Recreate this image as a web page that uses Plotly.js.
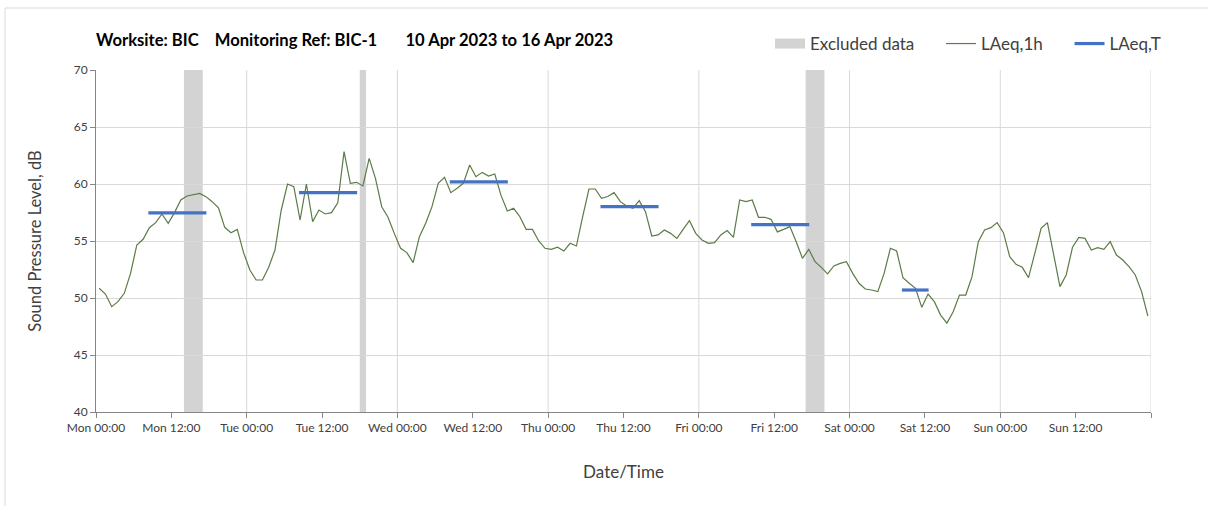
<!DOCTYPE html>
<html><head><meta charset="utf-8">
<script src="https://cdn.plot.ly/plotly-3.0.1.min.js"></script>
<style>html,body{margin:0;padding:0;background:#fff;} #chart{width:1208px;height:506px;}</style>
</head><body><div id="chart"></div>
<script>
// Hourly LAeq,1h values (dB), Mon 10 Apr 2023 00:00 to Sun 16 Apr 2023 23:00 (plotted at mid-hour)
const laeq1h = [
 50.85,50.35,49.24,49.68,50.41,52.16,54.65,55.15,56.17,56.61,57.37,56.55,57.49,58.6,58.95,59.09,59.18,58.89,58.45,57.92,56.2,55.73,56.02,53.98,
 52.46,51.58,51.58,52.7,54.21,57.72,60.0,59.77,56.84,60.0,56.7,57.72,57.37,57.49,58.36,62.84,60.06,60.15,59.83,62.25,60.5,58.01,57.08,55.67,
 54.36,53.98,53.1,55.38,56.55,58.01,60.06,60.58,59.24,59.62,60.06,61.67,60.64,61.02,60.7,60.88,59.0,57.63,57.87,57.13,56.02,56.02,55.0,54.36,
 54.27,54.45,54.12,54.8,54.56,57.13,59.56,59.56,58.74,58.9,59.24,58.45,58.07,57.87,58.54,57.57,55.44,55.53,55.97,55.67,55.23,56.02,56.78,55.67,
 55.09,54.8,54.85,55.53,55.91,55.32,58.6,58.45,58.6,57.08,57.08,56.9,55.8,56.02,56.26,54.94,53.48,54.27,53.19,52.69,52.11,52.81,53.04,53.19,
 52.16,51.29,50.79,50.7,50.56,52.16,54.36,54.12,51.78,51.29,50.85,49.18,50.35,49.68,48.5,47.8,48.8,50.26,50.26,51.87,54.94,55.97,56.17,56.61,
 55.73,53.63,52.95,52.69,51.78,53.92,56.11,56.61,53.77,51.0,52.02,54.45,55.32,55.23,54.21,54.42,54.27,54.94,53.77,53.33,52.75,52.02,50.56,48.42
];
// LAeq,T periods
const periodStart = ['2023-04-10 08:20','2023-04-11 08:20','2023-04-12 08:20','2023-04-13 08:20','2023-04-14 08:20','2023-04-15 08:20'];
const periodEnd   = ['2023-04-10 17:35','2023-04-11 17:35','2023-04-12 17:35','2023-04-13 17:35','2023-04-14 17:35','2023-04-15 12:35'];
const periodLevel = [57.46, 59.24, 60.18, 58.01, 56.43, 50.7];
// Excluded data periods
const excludedStart = ['2023-04-10 14:00','2023-04-11 18:00','2023-04-14 17:00'];
const excludedEnd   = ['2023-04-10 17:00','2023-04-11 19:00','2023-04-14 20:00'];
// Axis ticks
const tickTimes = ['2023-04-10 00:00','2023-04-10 12:00','2023-04-11 00:00','2023-04-11 12:00','2023-04-12 00:00','2023-04-12 12:00','2023-04-13 00:00','2023-04-13 12:00','2023-04-14 00:00','2023-04-14 12:00','2023-04-15 00:00','2023-04-15 12:00','2023-04-16 00:00','2023-04-16 12:00','2023-04-17 00:00'];
const tickLabels = ['Mon 00:00','Mon 12:00','Tue 00:00','Tue 12:00','Wed 00:00','Wed 12:00','Thu 00:00','Thu 12:00','Fri 00:00','Fri 12:00','Sat 00:00','Sat 12:00','Sun 00:00','Sun 12:00',''];
const dayLines = ['2023-04-11 00:00','2023-04-12 00:00','2023-04-13 00:00','2023-04-14 00:00','2023-04-15 00:00','2023-04-16 00:00','2023-04-17 00:00'];

function hourTime(i){
  const d = new Date(Date.UTC(2023,3,10,0,30) + i*3600e3);
  return d.toISOString().slice(0,16).replace('T',' ');
}
const times = laeq1h.map((v,i)=>hourTime(i));

const NB = '\u00a0';
const FONT = 'Lato, "Open Sans", sans-serif';
const traces = [];
traces.push({x:[null], y:[null], mode:'lines', name:'Excluded data'+NB.repeat(5), line:{color:'#d3d3d3', width:12}, hoverinfo:'skip'});
traces.push({x:times, y:laeq1h, mode:'lines', name:'LAeq,1h'+NB.repeat(5), line:{color:'#5b7b47', width:1.2}});
periodLevel.forEach((v,k)=>{
  traces.push({x:[periodStart[k], periodEnd[k]], y:[v, v], mode:'lines', name:'LAeq,T', legendgroup:'T', showlegend:k===0, line:{color:'#4472c4', width:3.2}});
});

const shapes = [];
dayLines.forEach(d=>shapes.push({type:'line', xref:'x', yref:'paper', x0:d, x1:d, y0:0, y1:1, layer:'below', line:{color:'#d9d9d9', width:1}}));
excludedStart.forEach((s,k)=>shapes.push({type:'rect', xref:'x', yref:'paper', x0:s, x1:excludedEnd[k], y0:0, y1:1, layer:'below', fillcolor:'#d3d3d3', line:{width:0}}));
shapes.push({type:'rect', xref:'paper', yref:'paper', x0:(5-96)/1055, x1:(1260-96)/1055, y0:(412-560)/342, y1:(412-8)/342, layer:'below', line:{color:'#d9d9d9', width:1}, fillcolor:'rgba(0,0,0,0)'});

const layout = {
  width:1208, height:506,
  margin:{l:96, r:57, t:70, b:94},
  paper_bgcolor:'#fff', plot_bgcolor:'#fff',
  font:{family:FONT, color:'#404040'},
  title:{text:'<b>Worksite: BIC'+NB.repeat(4)+'Monitoring Ref: BIC-1'+NB.repeat(7)+'10 Apr 2023 to 16 Apr 2023</b>', x:96/1208, xanchor:'left', y:1-40/506, yanchor:'middle', font:{family:FONT, size:16.6, color:'#000'}},
  showlegend:true,
  legend:{orientation:'h', x:(770-96)/1055, xanchor:'left', y:(412-44)/342, yanchor:'middle', font:{family:FONT, size:17, color:'#404040'}, bgcolor:'rgba(0,0,0,0)'},
  xaxis:{type:'date', range:['2023-04-10 00:00','2023-04-17 00:00'], tickvals:tickTimes, ticktext:tickLabels, showgrid:false, zeroline:false,
    showline:true, linecolor:'#868686', linewidth:1, ticks:'outside', ticklen:5, tickcolor:'#868686', tickfont:{family:FONT, size:12, color:'#404040'},
    title:{text:'Date/Time', font:{family:FONT, size:17, color:'#404040'}, standoff:31}},
  yaxis:{range:[40,70], dtick:5, tick0:40, showgrid:true, gridcolor:'#d9d9d9', gridwidth:1, zeroline:false,
    showline:true, linecolor:'#868686', linewidth:1, ticks:'outside', ticklen:5, tickcolor:'#868686', tickfont:{family:FONT, size:12, color:'#404040'},
    title:{text:'Sound Pressure Level, dB', font:{family:FONT, size:16.5, color:'#404040'}, standoff:27}},
  shapes:shapes
};
Plotly.newPlot('chart', traces, layout, {displayModeBar:false, staticPlot:true});
</script>
</body></html>
